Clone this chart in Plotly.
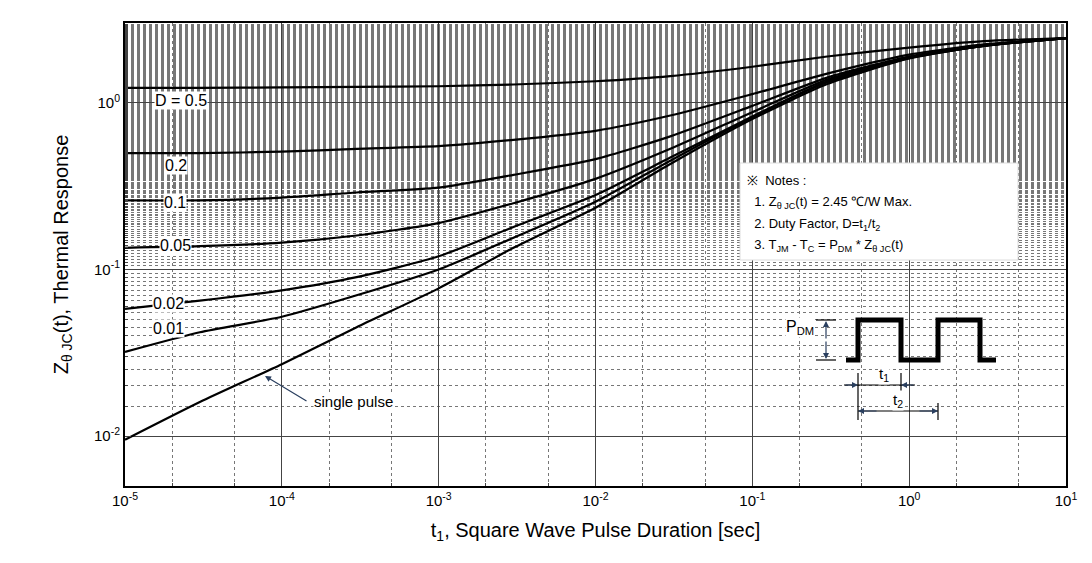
import plotly.graph_objects as go

t = [1e-5, 3e-5, 1e-4, 3e-4, 1e-3, 3e-3, 1e-2, 3e-2, 1e-1, 3e-1, 1, 3, 10]
z_single = [0.0095, 0.016, 0.027, 0.045, 0.077, 0.135, 0.235, 0.43, 0.8, 1.3, 1.85, 2.2, 2.45]
z_d05 = [1.23, 1.23, 1.24, 1.25, 1.26, 1.29, 1.35, 1.45, 1.65, 1.9, 2.15, 2.35, 2.45]
z_d02 = [0.50, 0.50, 0.51, 0.53, 0.55, 0.60, 0.68, 0.84, 1.13, 1.5, 1.95, 2.25, 2.45]
z_d01 = [0.26, 0.26, 0.27, 0.29, 0.31, 0.37, 0.46, 0.63, 0.96, 1.42, 1.9, 2.22, 2.45]
z_d005 = [0.135, 0.138, 0.145, 0.16, 0.19, 0.25, 0.35, 0.53, 0.88, 1.38, 1.88, 2.21, 2.45]
z_d002 = [0.058, 0.065, 0.075, 0.09, 0.12, 0.18, 0.28, 0.47, 0.83, 1.35, 1.87, 2.2, 2.45]
z_d001 = [0.032, 0.042, 0.052, 0.07, 0.10, 0.155, 0.255, 0.45, 0.82, 1.33, 1.86, 2.2, 2.45]
xtick_vals = [1e-5, 1e-4, 1e-3, 1e-2, 1e-1, 1, 10]
xtick_text = ["10<sup>-5</sup>", "10<sup>-4</sup>", "10<sup>-3</sup>", "10<sup>-2</sup>", "10<sup>-1</sup>", "10<sup>0</sup>", "10<sup>1</sup>"]
ytick_vals = [1e-2, 1e-1, 1]
ytick_text = ["10<sup>-2</sup>", "10<sup>-1</sup>", "10<sup>0</sup>"]

fig = go.Figure()
for z in [z_single, z_d001, z_d002, z_d005, z_d01, z_d02, z_d05]:
    fig.add_trace(go.Scatter(x=t, y=z, mode="lines", line=dict(color="black", width=2.2, shape="spline", smoothing=0.6),
                             showlegend=False, hoverinfo="skip"))

W, H = 1092, 563
L, R, T, B = 117, 1058, 15, 478
def px(x): return (x - L) / (R - L)
def py(y): return (B - y) / (B - T)

font = dict(family="Liberation Sans, Arial", size=15, color="black")
ann = []
def lab(x, y, text, size=15, anchor="center"):
    ann.append(dict(xref="paper", yref="paper", x=px(x), y=py(y), text=text, showarrow=False,
                    font=dict(family="Liberation Sans, Arial", size=size, color="black"),
                    bgcolor="white", xanchor=anchor, borderpad=0))
lab(173, 83, "D = 0.5", 16)
lab(168, 148, "0.2", 16)
lab(167, 195, "0.1", 16)
lab(167, 238, "0.05", 16)
lab(160, 295, "0.02", 16)
lab(160, 330, "0.01", 16)
lab(345, 403, "single pulse", 15)

def arrow(x, y, x2, y2):
    ann.append(dict(xref="paper", yref="paper", x=px(x), y=py(y), ax=x2 - x, ay=y2 - y,
                    axref="pixel", ayref="pixel", text="", showarrow=True, arrowhead=2,
                    arrowsize=1, arrowwidth=1.2, standoff=0, startstandoff=0))
arrow(257, 368, 300, 394)

notes = ["※  Notes :", "  1. Z<sub>θ JC</sub>(t) = 2.45 ℃/W Max.", "  2. Duty Factor, D=t<sub>1</sub>/t<sub>2</sub>",
         "  3. T<sub>JM</sub> - T<sub>C</sub> = P<sub>DM</sub> * Z<sub>θ JC</sub>(t)"]
lab(792, 330, "P<sub>DM</sub>", 16)
lab(876, 377, "t<sub>1</sub>", 15)
lab(890, 403, "t<sub>2</sub>", 15)

shapes = [dict(type="rect", xref="paper", yref="paper", x0=px(732), x1=px(1010), y0=py(155), y1=py(252),
               line=dict(color="#dddddd", width=1), fillcolor="white", layer="above")]
for i, n in enumerate(notes):
    lab(738, 172 + i * 22, n, 13, "left")
wave = [(838, 352), (850, 352), (850, 312), (893, 312), (893, 352), (930, 352), (930, 312), (972, 312), (972, 352), (988, 352)]
path = "M " + " L ".join(f"{px(a)},{py(b)}" for a, b in wave)
shapes.append(dict(type="path", xref="paper", yref="paper", path=path, line=dict(color="black", width=5)))
for x0, y0, x1, y1 in [(808, 312, 828, 312), (808, 352, 828, 352),
                       (850, 365, 850, 412), (893, 365, 893, 387), (930, 395, 930, 412),
                       (836, 377, 907, 377), (850, 403, 930, 403)]:
    shapes.append(dict(type="line", xref="paper", yref="paper", x0=px(x0), y0=py(y0), x1=px(x1), y1=py(y1),
                       line=dict(color="black", width=1.2)))
for x, y, x2, y2 in [(818, 313, 818, 332), (818, 351, 818, 332), (850, 377, 836, 377), (893, 377, 907, 377),
                     (850, 403, 870, 403), (930, 403, 910, 403)]:
    arrow(x, y, x2, y2)

fig.update_layout(
    width=W, height=H, margin=dict(l=L, r=W - R, t=T, b=H - B),
    paper_bgcolor="white", plot_bgcolor="white", font=font,
    annotations=ann, shapes=shapes,
    xaxis=dict(type="log", range=[-5, 1], tickvals=xtick_vals, ticktext=xtick_text, showline=True, mirror=True,
               linecolor="black", linewidth=2, gridcolor="#444", gridwidth=1, ticks="inside", ticklen=6,
               minor=dict(showgrid=True, gridcolor="#777", griddash="dot", ticks="inside", ticklen=3),
               title=dict(text="t<sub>1</sub>, Square Wave Pulse Duration [sec]", font=dict(size=20)),
               tickfont=dict(size=15)),
    yaxis=dict(type="log", range=[-2.3, 0.48], tickvals=ytick_vals, ticktext=ytick_text, showline=True, mirror=True,
               linecolor="black", linewidth=2, gridcolor="#444", gridwidth=1, ticks="inside", ticklen=6,
               minor=dict(showgrid=True, gridcolor="#777", griddash="dot", ticks="inside", ticklen=3),
               title=dict(text="Z<sub>θ JC</sub>(t), Thermal Response", font=dict(size=20), standoff=20),
               tickfont=dict(size=15)),
)
fig.write_html("out.html")
